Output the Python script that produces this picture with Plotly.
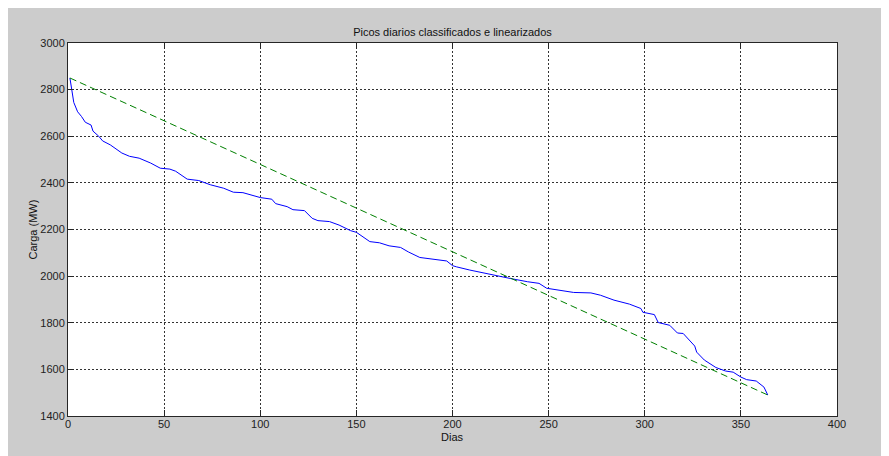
import plotly.graph_objects as go

# Daily peaks, sorted (load duration curve)
dias = [1, 2, 3, 5, 7, 9, 12, 13, 16, 18, 22, 28, 32, 37, 43, 48, 53, 56, 62, 68,
        74, 81, 86, 91, 96, 100, 106, 108, 114, 117, 123, 127, 130, 136, 141, 147,
        150, 157, 162, 167, 173, 177, 183, 190, 197, 200, 202, 209, 216, 223, 230,
        239, 245, 249, 258, 263, 272, 277, 284, 292, 298, 299, 305, 307, 313, 317,
        320, 324, 326, 327, 331, 337, 342, 346, 350, 353, 358, 362, 364]
carga = [2850, 2800, 2745, 2705, 2685, 2660, 2648, 2622, 2600, 2580, 2563, 2528,
         2514, 2506, 2485, 2463, 2459, 2450, 2416, 2410, 2392, 2377, 2360, 2358,
         2348, 2337, 2330, 2311, 2298, 2285, 2281, 2248, 2238, 2234, 2219, 2195,
         2188, 2148, 2143, 2130, 2123, 2104, 2080, 2072, 2065, 2045, 2040, 2026,
         2014, 2000, 1990, 1976, 1969, 1948, 1937, 1930, 1928, 1918, 1897, 1880,
         1861, 1845, 1835, 1801, 1789, 1756, 1754, 1717, 1700, 1674, 1640, 1608,
         1593, 1588, 1567, 1556, 1550, 1524, 1490]

# Linearized fit
dias_lin = [1, 364]
carga_lin = [2850, 1490]

x_ticks = [0, 50, 100, 150, 200, 250, 300, 350, 400]
y_ticks = [1400, 1600, 1800, 2000, 2200, 2400, 2600, 2800, 3000]

FONT = "Liberation Sans, Arial, sans-serif"
W, H = 881, 448
L, R, T, B = 60, 52, 35, 40
PW, PH = W - L - R, H - T - B

fig = go.Figure()
fig.add_trace(go.Scatter(x=dias, y=carga, mode="lines",
                         line=dict(color="#0000ff", width=1), showlegend=False))
fig.add_trace(go.Scatter(x=dias_lin, y=carga_lin, mode="lines",
                         line=dict(color="#008000", width=1, dash="7px,4px"),
                         showlegend=False))

axis_common = dict(
    showline=True, linecolor="#262626", linewidth=1, mirror="ticks",
    ticks="inside", ticklen=6, tickcolor="#262626", tickwidth=1,
    showgrid=True, gridcolor="#333333", gridwidth=1, griddash="2px,2px",
    zeroline=False, automargin=False,
    tickfont=dict(family=FONT, size=11, color="#222222"),
)

fig.update_xaxes(range=[0, 400], tickvals=x_ticks, ticktext=[str(v) for v in x_ticks],
                 ticklabelstandoff=-2, **axis_common)
fig.update_yaxes(range=[1400, 3000], tickvals=y_ticks, ticktext=[str(v) for v in y_ticks],
                 **axis_common)

fig.update_layout(
    width=W, height=H,
    margin=dict(l=L, r=R, t=T, b=B, autoexpand=False),
    paper_bgcolor="#cccccc", plot_bgcolor="#ffffff",
    title=dict(text="Picos diarios classificados e linearizados",
               font=dict(family=FONT, size=11, color="#111111"),
               x=(L + PW / 2) / W, xanchor="center", y=1 - 24 / H, yanchor="middle"),
    annotations=[
        dict(text="Dias", xref="paper", yref="paper", x=0.5, y=-(21 / PH),
             xanchor="center", yanchor="middle", showarrow=False,
             font=dict(family=FONT, size=11, color="#111111")),
        dict(text="Carga (MW)", xref="paper", yref="paper", x=-(36 / PW), y=0.5,
             xanchor="center", yanchor="middle", showarrow=False, textangle=-90,
             font=dict(family=FONT, size=11, color="#111111")),
    ],
)

fig.write_html("out.html")
